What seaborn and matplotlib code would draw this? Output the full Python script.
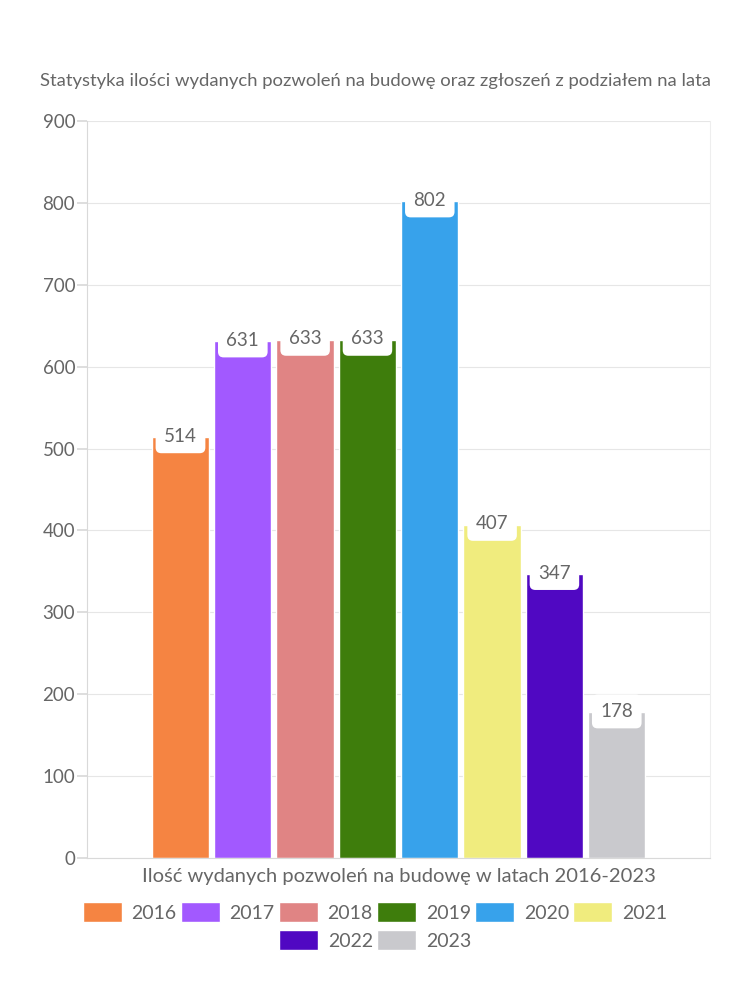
import matplotlib
matplotlib.use("Agg")
import matplotlib.pyplot as plt
import seaborn as sns
import pandas as pd

years = ["2016", "2017", "2018", "2019", "2020", "2021", "2022", "2023"]
values = [514, 631, 633, 633, 802, 407, 347, 178]
colors = ["#F58442", "#A259FF", "#E08484", "#3E7D0C", "#37A2EB", "#F0EC7E", "#5008C2", "#C9C9CD"]
category = "Ilość wydanych pozwoleń na budowę w latach 2016-2023"
title = "Statystyka ilości wydanych pozwoleń na budowę oraz zgłoszeń z podziałem na lata"
yticks = [0, 100, 200, 300, 400, 500, 600, 700, 800, 900]

sns.set_theme(style="white")
plt.rcParams['font.family'] = ['Lato', 'DejaVu Sans']
txt = "#666666"

df = pd.DataFrame({"cat": [category] * len(years), "year": years, "value": values})

fig = plt.figure(figsize=(7.5, 10), dpi=100)
ax = fig.add_axes([0.116, 0.142, 0.831, 0.737])
sns.barplot(data=df, x="cat", y="value", hue="year", palette=colors, hue_order=years,
            width=0.8, gap=0.08, ax=ax, legend=True, saturation=1)

ax.set_ylim(0, 900)
ax.set_yticks(yticks)
ax.set_yticklabels([str(t) for t in yticks], color=txt, fontsize=13.5)
ax.yaxis.grid(True, color="#e6e6e6", linewidth=0.8)
ax.set_axisbelow(True)
ax.tick_params(axis="y", length=7, color="#d9d9d9", pad=1.5, left=True)
ax.tick_params(axis="x", length=0)
ax.set_xticklabels([])
ax.set_xlabel(category, color=txt, fontsize=14.5, labelpad=4)
ax.set_ylabel("")
for s in ["left", "bottom", "right", "top"]:
    ax.spines[s].set_color("#d9d9d9")
    ax.spines[s].set_linewidth(0.8)
ax.spines["top"].set_visible(False)
ax.spines["right"].set_color("#eeeeee")

# value labels
for cont in ax.containers:
    for bar in cont:
        h = bar.get_height()
        cx = bar.get_x() + bar.get_width() / 2
        ax.text(cx, h + 1, f"{int(round(h))}", ha="center", va="center", fontsize=13.5, color=txt,
                bbox=dict(boxstyle="round,pad=0.45,rounding_size=0.3", fc="white", ec="none"))

fig.text(0.5, 0.919, title, ha="center", va="center", fontsize=13.3, color=txt)

handles, labels = ax.get_legend_handles_labels()
ax.legend_.remove()
common = dict(frameon=False, fontsize=14, handlelength=2.0, handleheight=1.2,
              columnspacing=0.22, handletextpad=0.5, borderpad=0.2)
leg1 = fig.legend(handles[:6], labels[:6], loc="center", bbox_to_anchor=(0.5, 0.088), ncol=6, **common)
leg2 = fig.legend(handles[6:], labels[6:], loc="center", bbox_to_anchor=(0.5, 0.060), ncol=2, **common)
for lg in (leg1, leg2):
    for t in lg.get_texts():
        t.set_color(txt)

fig.savefig("out.png", dpi=100, facecolor="white")
